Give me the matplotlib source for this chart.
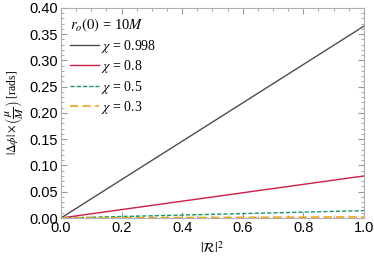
import matplotlib.pyplot as plt
from matplotlib.ticker import MultipleLocator

plt.rcParams['mathtext.fontset'] = 'stix'

# |R|^2 values and phase shifts at the ends of each (linear) curve
r2 = [0.0, 1.0]
chi_labels = ['0.998', '0.8', '0.5', '0.3']
dphi_0998 = [0.0, 0.365]
dphi_08 = [0.0, 0.080]
dphi_05 = [0.0, 0.014]
dphi_03 = [0.0, 0.002]

fig = plt.figure(figsize=(3.74, 2.58), dpi=100)
ax = fig.add_axes([0.163, 0.155, 0.81, 0.815])

ax.plot(r2, dphi_0998, color='#4d4d4d', lw=1.0, label=r'$\chi$ = ' + chi_labels[0])
ax.plot(r2, dphi_08, color='#d01c47', lw=1.0, label=r'$\chi$ = ' + chi_labels[1])
ax.plot(r2, dphi_05, color='#159a5a', lw=1.0, ls=(0, (3, 1.5)), label=r'$\chi$ = ' + chi_labels[2])
ax.plot(r2, dphi_03, color='#f5a31a', lw=1.2, ls=(0, (5, 2.5)), label=r'$\chi$ = ' + chi_labels[3])

ax.set_xlim(0, 1)
ax.set_ylim(0, 0.4)
ax.xaxis.set_major_locator(MultipleLocator(0.2))
ax.xaxis.set_minor_locator(MultipleLocator(0.05))
ax.yaxis.set_major_locator(MultipleLocator(0.05))
ax.yaxis.set_minor_locator(MultipleLocator(0.01))
ax.tick_params(which='both', direction='in', top=True, right=True, color='#999999',
               labelsize=10.5, pad=2, labelfontfamily='Liberation Sans')
ax.tick_params(which='major', length=4)
ax.tick_params(which='minor', length=2)
for s in ax.spines.values():
    s.set_color('#b0b0b0')

ax.set_xlabel(r'$|\mathcal{R}|^2$', fontsize=10, labelpad=4)
ax.set_ylabel(r'$|\Delta\phi| \times \left(\dfrac{\mu}{M}\right)$ [rads]', fontsize=8.5,
              family='Liberation Serif', labelpad=3)

leg = ax.legend(loc='upper left', frameon=False, title=r'$r_o(0)$ = 10$M$',
                title_fontproperties={'family': 'Liberation Serif', 'size': 10.5},
                handlelength=2.1, handletextpad=0.15,
                labelspacing=0.25, borderaxespad=0.35, borderpad=0.3,
                prop={'family': 'Liberation Serif', 'size': 10})
leg._legend_box.align = 'left'

fig.savefig('out.png', dpi=100)
